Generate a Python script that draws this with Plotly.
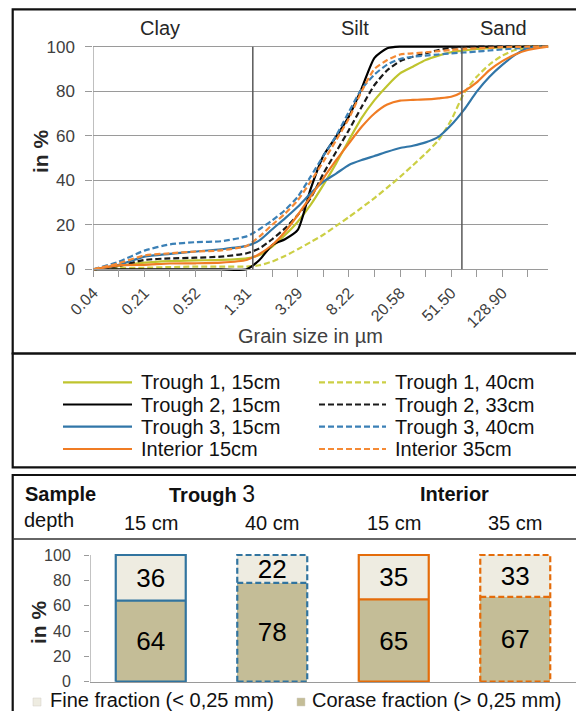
import plotly.graph_objects as go

W, H = 576, 711
FONT = "Liberation Sans, Arial, sans-serif"

# ---------------- top chart data (grain size distribution, cumulative %) ----------------
bin_index = [0, 5, 10, 15, 20, 25, 30, 32.5, 35, 37.5, 40, 42.5, 45, 47.5, 50, 52.5,
             55, 57.5, 60, 62.5, 65, 67.5, 70, 72.5, 75, 77.5, 80, 82.5, 85, 89]
tick_index = list(range(0, 90, 5))
tick_labels = ["0.04", "", "0.21", "", "0.52", "", "1.31", "", "3.29", "", "8.22", "",
               "20.58", "", "51.50", "", "128.90", ""]
boundary_index = [31.2, 72.1]          # clay/silt and silt/sand limits
fraction_names = ["Clay", "Silt", "Sand"]

trough1_15 = [0, 1.5, 3, 3.7, 4, 4.2, 4.9, 6.4, 10.2, 15.4, 21.4, 28.9, 37.9, 47.6, 58, 68,
              76, 82.5, 88, 91, 94, 96, 97.5, 98.3, 99, 99.4, 99.7, 99.9, 100, 100]
trough1_40 = [0, 0.5, 0.7, 1, 1.2, 1.2, 1.2, 1.8, 3.5, 6, 9, 12.2, 15.5, 19.5, 23.5, 27.7,
              32, 36.7, 41.5, 46.7, 52, 58, 67, 79, 86.5, 92, 96, 98.5, 99.5, 100]
trough2_15 = [0, 0, 0, 0, 0, 0, 0, 4.2, 10.9, 13.5, 17.7, 36, 51, 59.6, 68.6, 81.3,
              95, 99.3, 100, 100, 100, 100, 100, 100, 100, 100, 100, 100, 100, 100]
trough2_33 = [0, 1.5, 4.2, 4.9, 5.2, 5.7, 7.2, 9.4, 13.5, 18.4, 24.4, 31.9, 43, 52.8, 62.6, 73,
              82.8, 89.4, 93.5, 95.5, 97, 98.5, 99.5, 99.8, 100, 100, 100, 100, 100, 100]
trough3_15 = [0, 2, 5.7, 6.9, 8, 9, 10.5, 13, 18, 22.9, 28.1, 34.1, 39.4, 43, 46.9, 49.1,
              50.9, 52.8, 54.5, 55.5, 57, 59.5, 64.8, 71.6, 79.8, 86.5, 91.8, 96.3, 99.3, 100]
trough3_40 = [0, 3.4, 8.4, 11.2, 12.2, 12.6, 14.8, 18, 22, 26.6, 32.6, 41.6, 51, 60, 70.8, 81,
              87.5, 92, 94.5, 95.5, 96, 96.5, 97, 97.4, 97.8, 98.3, 98.8, 99.2, 99.6, 100]
interior_15 = [0, 1.8, 2, 2.6, 2.7, 3, 4.2, 6.9, 10.9, 16.9, 24.4, 32.6, 40.9, 49, 56.6, 64,
               70, 74, 75.8, 76.1, 76.3, 76.8, 77.5, 80, 84, 89.5, 93.5, 96.5, 98.5, 100]
interior_35 = [0, 2.7, 6.2, 7.2, 8, 8.5, 10.5, 14.7, 20, 25, 31, 39.4, 48.4, 58, 67.8, 80,
               90, 94, 96.5, 97, 97.5, 98, 98.5, 99, 99.3, 99.5, 99.8, 99.9, 100, 100]

series_names = ["Trough 1, 15cm", "Trough 1, 40cm", "Trough 2, 15cm", "Trough 2, 33cm",
                "Trough 3, 15cm", "Trough 3, 40cm", "Interior 15cm", "Interior 35cm"]
series_values = [trough1_15, trough1_40, trough2_15, trough2_33,
                 trough3_15, trough3_40, interior_15, interior_35]
series_colors = ["#BFC42E", "#CCCF45", "#000000", "#1A1A1A",
                 "#3176A8", "#3B80B6", "#F07C24", "#F58A35"]
series_dashed = [False, True, False, True, False, True, False, True]

# ---------------- bottom chart data (fractions) ----------------
groups = ["Trough 3", "Interior"]
depths = ["15 cm", "40 cm", "15 cm", "35 cm"]
fine_fraction = [36, 22, 35, 33]
coarse_fraction = [64, 78, 65, 67]
bar_edge_colors = ["#31749F", "#31749F", "#E46C0A", "#E46C0A"]
bar_dashed = [False, True, False, True]
fraction_labels = ["Fine fraction (< 0,25 mm)", "Corase fraction (> 0,25 mm)"]
fine_color = "#EEECE1"
coarse_color = "#C4BD97"

DASH = "6px,3px"
GRID = "#9A9A9A"


def px(x):
    return x / W


def py(y):
    return 1 - y / H


fig = go.Figure()

# ---------- top chart lines ----------
for name, vals, col, dashed in zip(series_names, series_values, series_colors, series_dashed):
    fig.add_trace(go.Scatter(
        x=bin_index, y=vals, mode="lines", name=name, showlegend=False,
        line=dict(color=col, width=2.2, dash=DASH if dashed else "solid",
                  shape="spline", smoothing=0.6),
        xaxis="x", yaxis="y", hoverinfo="skip"))

# ---------- bottom chart bars ----------
xpos = list(range(len(depths)))
BW = 0.576
fig.add_trace(go.Bar(
    x=xpos, y=coarse_fraction, width=BW, marker=dict(color=coarse_color, line=dict(width=0)),
    text=[str(v) for v in coarse_fraction], textposition="inside", insidetextanchor="middle",
    textangle=0, constraintext="none",
    textfont=dict(size=26, color="black", family=FONT),
    xaxis="x2", yaxis="y2", showlegend=False, hoverinfo="skip"))
fig.add_trace(go.Bar(
    x=xpos, y=fine_fraction, width=BW, marker=dict(color=fine_color, line=dict(width=0)),
    text=[str(v) for v in fine_fraction], textposition="inside", insidetextanchor="middle",
    textangle=0, constraintext="none",
    textfont=dict(size=26, color="black", family=FONT),
    xaxis="x2", yaxis="y2", showlegend=False, hoverinfo="skip"))

# outlines of the bars (derived from the data)
for i, (c, f, col, dashed) in enumerate(zip(coarse_fraction, fine_fraction, bar_edge_colors, bar_dashed)):
    x0, x1 = i - BW / 2, i + BW / 2
    top = c + f
    fig.add_trace(go.Scatter(
        x=[x0, x0, x1, x1, x0, None, x0, x1],
        y=[0, top, top, 0, 0, None, c, c],
        mode="lines", line=dict(color=col, width=2.2, dash=DASH if dashed else "solid"),
        xaxis="x2", yaxis="y2", showlegend=False, hoverinfo="skip"))

# ---------- axes geometry ----------
top_y0_px, top_y100_px = 269.3, 46.7
top_unit = (top_y0_px - top_y100_px) / 100
bot_y0_px, bot_y100_px = 681.7, 555.0
bot_unit = (bot_y0_px - bot_y100_px) / 100

fig.update_layout(
    width=W, height=H, margin=dict(l=0, r=0, t=0, b=0, pad=0, autoexpand=False),
    paper_bgcolor="white", plot_bgcolor="white",
    font=dict(family=FONT, color="#262626"),
    barmode="stack", showlegend=False,
    xaxis=dict(
        domain=[px(93.3), px(548.3)], range=[0, 89], anchor="free",
        position=py(top_y0_px), automargin=False,
        tickmode="array", tickvals=tick_index, ticktext=tick_labels,
        tickangle=-45, ticks="outside", ticklen=7, tickcolor=GRID, tickwidth=1,
        tickfont=dict(size=16, color="#404040"),
        showline=True, linecolor=GRID, linewidth=1, showgrid=False, zeroline=False),
    yaxis=dict(
        domain=[py(top_y0_px + top_unit), py(top_y100_px - top_unit)], range=[-1, 101],
        automargin=False,
        tickmode="array", tickvals=[0, 20, 40, 60, 80, 100],
        ticks="outside", ticklen=7, tickcolor=GRID, tickwidth=1,
        tickfont=dict(size=17, color="#404040"), ticklabelstandoff=7,
        showgrid=True, gridcolor=GRID, gridwidth=1.2, showline=False, zeroline=False),
    xaxis2=dict(
        domain=[px(90), 1], range=[-0.5, 3.5], anchor="free", position=py(bot_y0_px),
        automargin=False,
        showticklabels=False, ticks="", showline=True, linecolor=GRID, linewidth=1.2,
        showgrid=False, zeroline=False),
    yaxis2=dict(
        domain=[py(bot_y0_px + bot_unit), py(bot_y100_px - bot_unit)], range=[-1, 101],
        anchor="x2", automargin=False, tickmode="array", tickvals=[0, 20, 40, 60, 80, 100],
        ticks="outside", ticklen=5, tickcolor=GRID, tickwidth=1,
        tickfont=dict(size=16, color="#404040"), ticklabelstandoff=10,
        showgrid=False, showline=False, zeroline=False),
)

shapes = []
# panel frames
for (y0, y1) in [(9.3, 353.5), (353.5, 467.3), (475.0, 740.0)]:
    shapes.append(dict(type="rect", xref="paper", yref="paper",
                       x0=px(12.7), x1=px(620), y0=py(y1), y1=py(y0),
                       line=dict(color="#111111", width=2.2), layer="above"))
# separator under bottom header
shapes.append(dict(type="line", xref="paper", yref="paper", x0=px(12.7), x1=px(620),
                   y0=py(539), y1=py(539), line=dict(color="#333333", width=1.5)))
# y axis lines
shapes.append(dict(type="line", xref="x", yref="y", x0=0, x1=0, y0=0, y1=100,
                   line=dict(color=GRID, width=1.2)))
shapes.append(dict(type="line", xref="x2", yref="y2", x0=-0.5, x1=-0.5, y0=0, y1=100,
                   line=dict(color=GRID, width=1.2)))
# fraction boundaries
for b in boundary_index:
    shapes.append(dict(type="line", xref="x", yref="y", x0=b, x1=b, y0=0, y1=100,
                       line=dict(color="#595959", width=1.5)))

annotations = []
for name, xc in zip(fraction_names, [160, 355, 503]):
    annotations.append(dict(xref="paper", yref="paper", x=px(xc), y=py(28), text=name,
                            showarrow=False, xanchor="center", yanchor="middle",
                            font=dict(size=20, color="#262626")))
annotations.append(dict(xref="paper", yref="paper", x=px(310), y=py(336),
                        text="Grain size in µm", showarrow=False, xanchor="center",
                        yanchor="middle", font=dict(size=20, color="#404040")))
annotations.append(dict(xref="paper", yref="paper", x=px(41), y=py(152), text="<b>in %</b>",
                        textangle=-90, showarrow=False, xanchor="center", yanchor="middle",
                        font=dict(size=21, color="#262626")))
annotations.append(dict(xref="paper", yref="paper", x=px(38), y=py(623), text="<b>in %</b>",
                        textangle=-90, showarrow=False, xanchor="center", yanchor="middle",
                        font=dict(size=21, color="#262626")))

# top legend (2 columns x 4 rows)
rows_y = [382.3, 404.5, 426.7, 449.0]
for j, (name, col, dashed) in enumerate(zip(series_names, series_colors, series_dashed)):
    r, c = j // 2, j % 2
    lx0, lx1, tx = (63, 132, 139) if c == 0 else (319, 386, 393)
    yy = rows_y[r]
    shapes.append(dict(type="line", xref="paper", yref="paper", x0=px(lx0), x1=px(lx1),
                       y0=py(yy), y1=py(yy),
                       line=dict(color=col, width=2.2, dash=DASH if dashed else "solid")))
    annotations.append(dict(xref="paper", yref="paper", x=px(tx), y=py(yy), text=name,
                            showarrow=False, xanchor="left", yanchor="middle",
                            font=dict(size=20, color="#111111")))

# bottom header
annotations.append(dict(xref="paper", yref="paper", x=px(23), y=py(494), text="<b>Sample</b>",
                        showarrow=False, xanchor="left", yanchor="middle",
                        font=dict(size=20, color="#111111")))
annotations.append(dict(xref="paper", yref="paper", x=px(22), y=py(520), text="depth",
                        showarrow=False, xanchor="left", yanchor="middle",
                        font=dict(size=20, color="#111111")))
group_text = ["<b>Trough </b><span style='font-size:23px'>3</span>", "<b>Interior</b>"]
for g, txt in enumerate(group_text):
    annotations.append(dict(xref="x2", yref="paper", x=2 * g + 0.5, y=py(494), text=txt,
                            showarrow=False, xanchor="center", yanchor="middle",
                            font=dict(size=20, color="#111111")))
for i, d in enumerate(depths):
    annotations.append(dict(xref="x2", yref="paper", x=i, y=py(523), text=d,
                            showarrow=False, xanchor="center", yanchor="middle",
                            font=dict(size=20, color="#111111")))

# bottom legend
for (sx, tx), lab, colr in zip([(33, 47.5), (297, 310)], fraction_labels, [fine_color, coarse_color]):
    shapes.append(dict(type="rect", xref="paper", yref="paper", x0=px(sx), x1=px(sx + 8),
                       y0=py(706), y1=py(698), fillcolor=colr,
                       line=dict(color="#D0CEC4", width=0.5)))
    annotations.append(dict(xref="paper", yref="paper", x=px(tx), y=py(700), text=lab,
                            showarrow=False, xanchor="left", yanchor="middle",
                            font=dict(size=20, color="#111111")))

fig.update_layout(shapes=shapes, annotations=annotations)
fig.write_html(
    "out.html",
    config={"displayModeBar": False, "staticPlot": True},
    post_script="document.body.style.margin='0px';document.body.style.padding='0px';"
                "document.body.style.overflow='hidden';")
